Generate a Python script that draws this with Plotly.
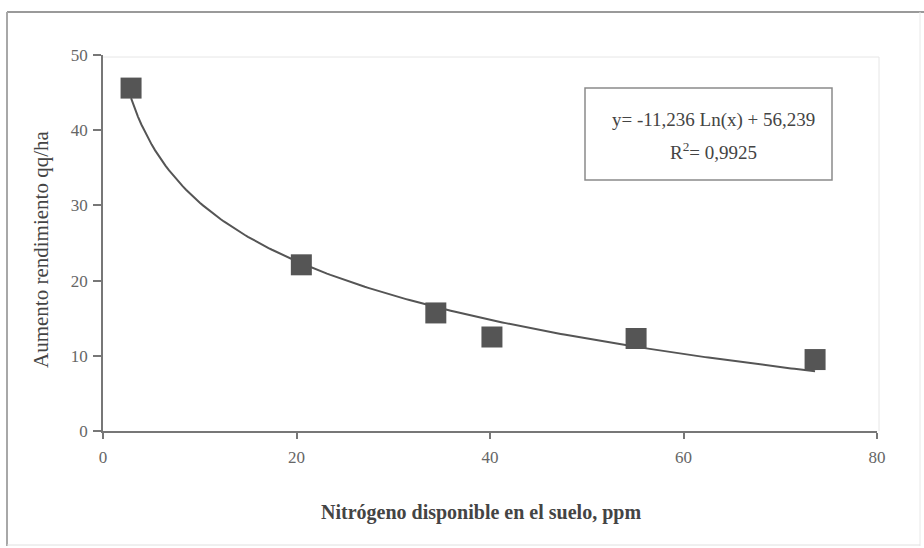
import numpy as np
import plotly.graph_objects as go

# Data
nitrogen_ppm = [2.9, 20.5, 34.4, 40.2, 55.1, 73.6]
yield_increase = [45.6, 22.1, 15.7, 12.5, 12.3, 9.5]

# Logarithmic fit shown on the chart
fit_slope = -11.236
fit_intercept = 56.239
fit_r2_label = "0,9925"
eq_label = "y= -11,236 Ln(x) + 56,239"

x_ticks = [0, 20, 40, 60, 80]
y_ticks = [0, 10, 20, 30, 40, 50]

x_title = "Nitrógeno disponible en el suelo, ppm"
y_title = "Aumento rendimiento qq/ha"

FONT = "Liberation Serif"
DARK = "#555555"

x_fit = np.linspace(nitrogen_ppm[0], nitrogen_ppm[-1], 200)
y_fit = fit_slope * np.log(x_fit) + fit_intercept

fig = go.Figure()
fig.add_trace(go.Scatter(x=x_fit, y=y_fit, mode="lines",
                         line=dict(color=DARK, width=2), hoverinfo="skip",
                         showlegend=False))
fig.add_trace(go.Scatter(x=nitrogen_ppm, y=yield_increase, mode="markers",
                         marker=dict(symbol="square", size=21, color=DARK,
                                     line=dict(width=0)),
                         showlegend=False))

L, R, T, B = 103, 47, 55, 117
W, H = 924, 548
pw, ph = W - L - R, H - T - B


def px(x):
    return (x - L) / pw


def py(y):
    return (H - B - y) / ph


fig.update_layout(
    width=W, height=H,
    margin=dict(l=L, r=R, t=T, b=B),
    paper_bgcolor="white", plot_bgcolor="white",
    font=dict(family=FONT, color="#666666", size=16),
    xaxis=dict(range=[0, 80], tickvals=x_ticks, showgrid=False, zeroline=False,
               showline=True, linecolor="#777777", linewidth=1.5,
               ticks="outside", ticklen=6, tickcolor="#777777", tickwidth=1.5,
               ticklabelstandoff=4,
               tickfont=dict(family=FONT, size=17, color="#666666")),
    yaxis=dict(range=[0, 50], tickvals=y_ticks, showgrid=False, zeroline=False,
               showline=True, linecolor="#777777", linewidth=1.5,
               ticks="outside", ticklen=8, tickcolor="#777777", tickwidth=1.5,
               ticklabelstandoff=2,
               tickfont=dict(family=FONT, size=17, color="#666666")),
    shapes=[
        # faint plot-area frame (top & right)
        dict(type="line", xref="paper", yref="paper", x0=0, x1=px(879), y0=py(57), y1=py(57),
             line=dict(color="#e6e6e6", width=1)),
        dict(type="line", xref="paper", yref="paper", x0=px(879), x1=px(879), y0=0, y1=py(57),
             line=dict(color="#e6e6e6", width=1)),
        # outer frame
        dict(type="line", xref="paper", yref="paper", x0=px(7), x1=px(924), y0=py(12), y1=py(12),
             line=dict(color="#9a9a9a", width=2)),
        dict(type="line", xref="paper", yref="paper", x0=px(7), x1=px(7), y0=py(12), y1=py(546),
             line=dict(color="#a8a8a8", width=2)),
        dict(type="line", xref="paper", yref="paper", x0=px(920), x1=px(920), y0=py(12), y1=py(546),
             line=dict(color="#e8e8e8", width=1)),
        dict(type="line", xref="paper", yref="paper", x0=px(7), x1=px(920), y0=py(545), y1=py(545),
             line=dict(color="#e0e0e0", width=1)),
        # equation box
        dict(type="rect", xref="paper", yref="paper", x0=px(585), x1=px(832), y0=py(180), y1=py(88),
             line=dict(color="#8a8a8a", width=1.5), fillcolor="white"),
    ],
    annotations=[
        dict(text=eq_label, xref="paper", yref="paper", x=px(713), y=py(120),
             showarrow=False, xanchor="center", yanchor="middle",
             font=dict(family=FONT, size=19, color="#444444")),
        dict(text="R<sup>2</sup>= " + fit_r2_label, xref="paper", yref="paper", x=px(713), y=py(151),
             showarrow=False, xanchor="center", yanchor="middle",
             font=dict(family=FONT, size=19, color="#444444")),
        dict(text=x_title, xref="paper", yref="paper", x=px(481), y=py(512),
             showarrow=False, xanchor="center", yanchor="middle",
             font=dict(family=FONT, size=20, color="#444444", weight="bold")),
        dict(text=y_title, xref="paper", yref="paper", x=px(41), y=py(250),
             showarrow=False, xanchor="center", yanchor="middle", textangle=-90,
             font=dict(family=FONT, size=21, color="#444444")),
    ],
)

fig.write_html("out.html")
